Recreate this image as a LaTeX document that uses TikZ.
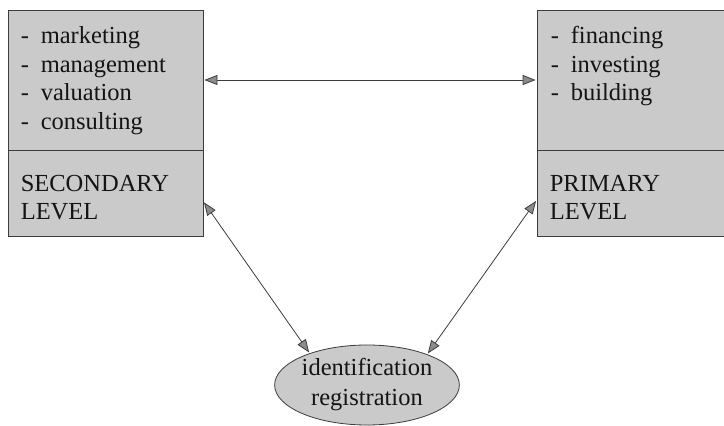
\documentclass[tikz,border=0pt]{standalone}
\usepackage{tikz}
\usepackage{xcolor}
\usepackage{fontspec}
\setmainfont{Liberation Serif}
\usetikzlibrary{shapes,arrows.meta,positioning,calc}
\definecolor{boxcolor}{RGB}{202,202,202}
\definecolor{edgecolor}{RGB}{60,60,60}
\definecolor{textcolor}{RGB}{20,20,20}
\definecolor{tipcolor}{RGB}{140,140,140}
\newcommand{\dashitem}[1]{\makebox[20pt][l]{-}#1}

\begin{document}
\begin{tikzpicture}[
    x=1pt, y=1pt,
    levelbox/.style={
        rectangle, draw=edgecolor, fill=boxcolor, line width=0.8pt,
        minimum width=195pt, inner sep=0pt
    },
    listtext/.style={
        anchor=base west, align=left, inner sep=0pt, text=textcolor,
        font=\fontsize{24.5}{28.5}\selectfont
    },
    identbox/.style={
        ellipse, draw=edgecolor, fill=boxcolor, line width=0.8pt,
        minimum width=182pt, minimum height=80pt, inner sep=0pt,
        align=center, text=textcolor,
        font=\fontsize{24.5}{30}\selectfont
    },
    biarrow/.style={
        {Triangle[length=13pt,width=10pt,fill=tipcolor]}-{Triangle[length=13pt,width=10pt,fill=tipcolor]},
        draw=edgecolor, line width=0.8pt, shorten <=1pt, shorten >=1pt
    }
]
\useasboundingbox (0,0) rectangle (724,426);

% Secondary level
\node[levelbox, minimum height=140pt] (secTop) at (105.5,346) {};
\node[levelbox, minimum height=86pt] (secBot) at (105.5,233) {};
% (base anchor = baseline of the last line)
\node[listtext] (secList) at ($(secTop.north west)+(13,-119.5)$)
    {\dashitem{marketing}\\\dashitem{management}\\\dashitem{valuation}\\\dashitem{consulting}};
\node[listtext] (secName) at ($(secBot.north west)+(13,-70)$) {SECONDARY\\LEVEL};

% Primary level
\node[levelbox, minimum width=203pt, minimum height=140pt] (primTop) at (638.5,346) {};
\node[levelbox, minimum width=203pt, minimum height=86pt] (primBot) at (638.5,233) {};
\node[listtext] (primList) at ($(primTop.north west)+(14,-91)$)
    {\dashitem{financing}\\\dashitem{investing}\\\dashitem{building}};
\node[listtext] (primName) at ($(primBot.north west)+(13,-70)$) {PRIMARY\\LEVEL};

% Identification
\node[identbox] (ident) at (367,41) {identification\\registration};

% Arrows
\draw[biarrow] (secTop.east) -- (primTop.west);
\draw[biarrow] (secBot.-5) -- (ident.151);
\draw[biarrow] (primBot.184) -- (ident.27);

\end{tikzpicture}
\end{document}
